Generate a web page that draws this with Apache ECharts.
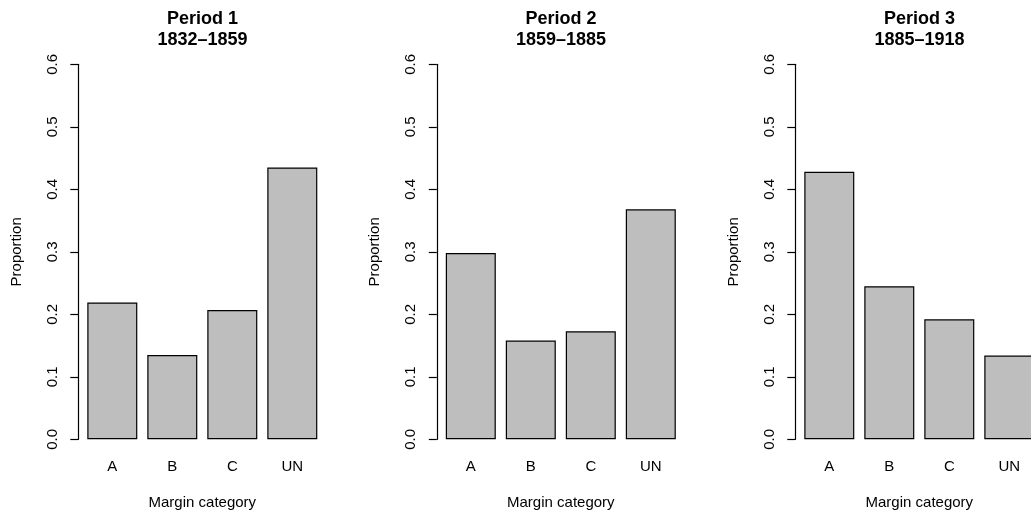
<!DOCTYPE html>
<html>
<head>
<meta charset="utf-8">
<script src="https://cdn.jsdelivr.net/npm/echarts@6/dist/echarts.min.js"></script>
<style>
  html, body { margin: 0; padding: 0; background: #fff; }
  #main { width: 1031px; height: 511px; }
</style>
</head>
<body>
<div id="main"></div>
<script>
var categories = ['A', 'B', 'C', 'UN'];
var periodNames = ['Period 1', 'Period 2', 'Period 3'];
var periodYears = ['1832\u20131859', '1859\u20131885', '1885\u20131918'];
var period1 = [0.219, 0.135, 0.207, 0.435];
var period2 = [0.298, 0.158, 0.173, 0.368];
var period3 = [0.428, 0.245, 0.192, 0.134];
var yTicks = [0, 0.1, 0.2, 0.3, 0.4, 0.5, 0.6];

document.addEventListener('DOMContentLoaded', function () {
    var chartDom = document.getElementById('main');
    var myChart = echarts.init(chartDom);
    var option;

    var values = [period1, period2, period3];
    // left axis line of each panel; the third panel runs past the window edge
    var axisX = [78.3, 436.8, 795.3];
    var font = 'Liberation Sans, Arial, Helvetica, sans-serif';

    var grids = [], xAxes = [], yAxes = [], series = [], titles = [];
    for (var i = 0; i < 3; i++) {
        grids.push({
            left: axisX[i] + 4, top: 64.3, width: 240, height: 375,
            outerBoundsMode: 'none', containLabel: false
        });
        titles.push({
            text: periodNames[i] + '\n' + periodYears[i],
            left: axisX[i] + 124.2,
            top: 9,
            textAlign: 'center',
            padding: 0,
            textStyle: { fontFamily: font, fontSize: 18, fontWeight: 'bold', color: '#000', lineHeight: 21 }
        });
        xAxes.push({
            type: 'category',
            gridIndex: i,
            data: categories,
            axisLine: { show: false },
            axisTick: { show: false },
            axisLabel: { color: '#000', fontFamily: font, fontSize: 15, margin: 20 },
            name: 'Margin category',
            nameLocation: 'middle',
            nameGap: 56,
            nameTextStyle: { color: '#000', fontFamily: font, fontSize: 15 }
        });
        yAxes.push({
            type: 'value',
            gridIndex: i,
            min: yTicks[0],
            max: yTicks[yTicks.length - 1],
            interval: 0.1,
            offset: 4,
            splitLine: { show: false },
            axisLine: { show: true, lineStyle: { color: '#000', width: 1.2 } },
            axisTick: { show: true, length: 8, lineStyle: { color: '#000', width: 1.2 } },
            axisLabel: {
                color: '#000', fontFamily: font, fontSize: 15, rotate: 90, margin: 18,
                formatter: function (v) { return v.toFixed(1); }
            },
            name: 'Proportion',
            nameLocation: 'middle',
            nameRotate: 90,
            nameGap: 54,
            nameTextStyle: { color: '#000', fontFamily: font, fontSize: 15 }
        });
        series.push({
            type: 'bar',
            xAxisIndex: i,
            yAxisIndex: i,
            barWidth: 50,
            data: values[i],
            itemStyle: { color: '#bebebe', borderColor: '#000', borderWidth: 1.2 },
            silent: true
        });
    }

    option = {
        backgroundColor: '#fff',
        animation: false,
        title: titles,
        grid: grids,
        xAxis: xAxes,
        yAxis: yAxes,
        series: series
    };

    option && myChart.setOption(option);
});
</script>
</body>
</html>
